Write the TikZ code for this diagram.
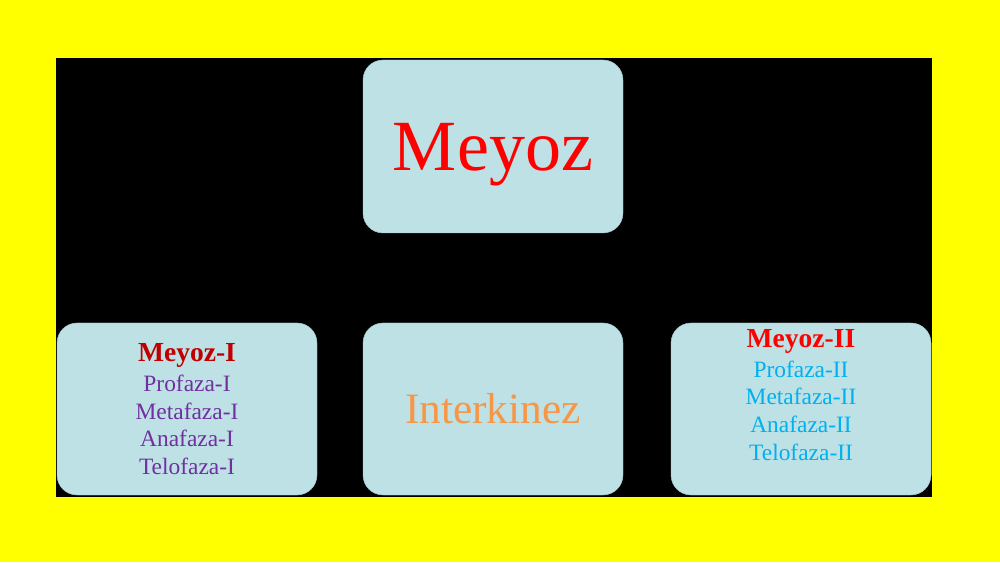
\documentclass[tikz,border=0pt]{standalone}
\usepackage{fontspec}
\setmainfont{Liberation Serif}
\usepackage{tikz}
\definecolor{fond}{HTML}{FFFF00}
\definecolor{bleuclair}{HTML}{BDE1E5}
\definecolor{bord}{HTML}{9FC3C8}
\definecolor{rougefonce}{HTML}{C00000}
\definecolor{violet}{HTML}{7030A0}
\definecolor{orange}{HTML}{F79646}
\definecolor{cyan}{HTML}{00B0F0}

\begin{document}
\begin{tikzpicture}
		\tikzstyle{bloc}=[draw=bord,fill=bleuclair,rectangle,rounded corners=0.6cm,minimum width=7.8cm,inner sep=0pt]
		\tikzstyle{phases}=[align=center,font=\fontsize{20}{23.6}\selectfont]
		% fond
		\fill[fond] (0,0) rectangle (30,16.86);
		\fill[black] (1.68,1.95) rectangle (27.96,15.12);
		\node[bloc,minimum height=5.19cm,text depth=0pt,text=red,font=\fontsize{61.5}{70}\selectfont] (M) at (14.79,12.465){Meyoz};
		\node[bloc,minimum height=5.16cm,phases,text=violet] (M1) at (5.61,4.59){
			{\fontsize{23.5}{26}\selectfont\bfseries\color{rougefonce}Meyoz-I}\\[2pt]
			Profaza-I\\
			Metafaza-I\\
			Anafaza-I\\
			Telofaza-I
		};
		\node[bloc,minimum height=5.16cm,text=orange,font=\fontsize{37}{42}\selectfont] (IK) at (14.79,4.59){Interkinez};
		\node[bloc,minimum height=5.16cm,phases,text=cyan] (M2) at (24.03,4.59){
			{\fontsize{23.5}{26}\selectfont\bfseries\color{red}Meyoz-II}\\[2pt]
			Profaza-II\\
			Metafaza-II\\
			Anafaza-II\\
			Telofaza-II\\[-6pt]
			\strut
		};
	\end{tikzpicture}
\end{document}
